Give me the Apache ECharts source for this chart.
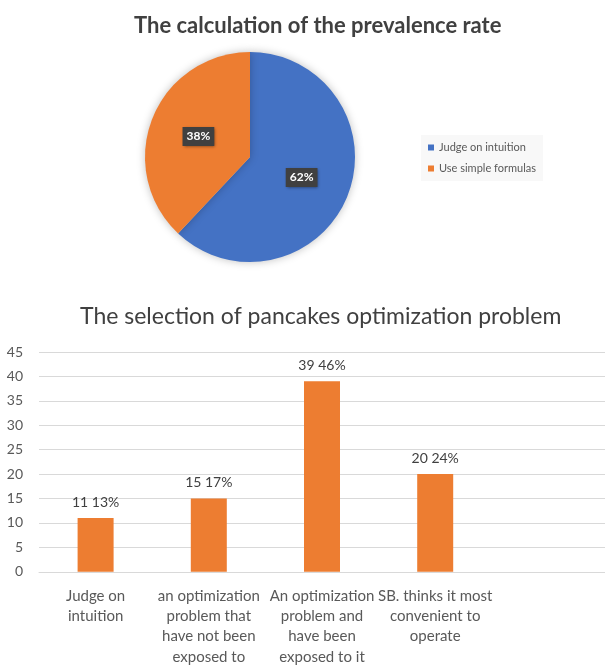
<!DOCTYPE html>
<html><head><meta charset="utf-8">
<script src="https://cdn.jsdelivr.net/npm/echarts@6/dist/echarts.min.js"></script>
<style>html,body{margin:0;padding:0;background:#fff}#c{width:605px;height:667px}</style>
</head><body><div id="c"></div>
<script>
const pieTitle = 'The calculation of the prevalence rate';
const pieNames = ['Judge on intuition', 'Use simple formulas'];
const pieValues = [62, 38];
const pieColors = ['#4472C4', '#ED7D31'];

const barTitle = 'The selection of pancakes optimization problem';
const barCategories = [
  'Judge on\nintuition',
  'an optimization\nproblem that\nhave not been\nexposed to',
  'An optimization\nproblem and\nhave been\nexposed to it',
  'SB. thinks it most\nconvenient to\noperate'
];
const barValues = [11, 15, 39, 20];
const barPercents = ['13%', '17%', '46%', '24%'];
const yMin = 0, yMax = 45, yStep = 5;

const FONT = 'Lato';
const chart = echarts.init(document.getElementById('c'), null, {renderer: 'canvas'});
chart.setOption({
  backgroundColor: '#fff',
  animation: false,
  textStyle: {fontFamily: FONT},
  title: [
    {text: pieTitle, left: 129, top: 10,
     textStyle: {fontFamily: FONT, fontSize: 22, fontWeight: 'bold', color: '#404040'}},
    {text: barTitle, left: 75, top: 300,
     textStyle: {fontFamily: FONT, fontSize: 23, fontWeight: 'normal', color: '#404040'}}
  ],
  legend: {
    orient: 'vertical', left: 421, top: 135,
    padding: [6, 7, 6, 7], itemGap: 8, itemWidth: 6, itemHeight: 6,
    icon: 'rect', backgroundColor: '#f8f8f8',
    data: pieNames,
    textStyle: {fontFamily: FONT, fontSize: 11, color: '#595959', lineHeight: 13}
  },
  grid: {left: 39, top: 352, width: 574, height: 225, containLabel: false},
  xAxis: {
    type: 'category', data: barCategories.concat(['']),
    axisTick: {show: false},
    axisLine: {lineStyle: {color: '#d9d9d9'}},
    axisLabel: {interval: 0, margin: 14, fontFamily: FONT, fontSize: 15, color: '#595959', lineHeight: 20.3}
  },
  yAxis: {
    type: 'value', min: yMin, max: yMax, interval: yStep,
    axisLine: {show: false}, axisTick: {show: false},
    splitLine: {lineStyle: {color: '#d9d9d9', width: 1}},
    axisLabel: {margin: 16, fontFamily: FONT, fontSize: 14, color: '#595959'}
  },
  series: [
    {
      type: 'pie', center: [250, 157], radius: [0, 105],
      startAngle: 90, clockwise: true,
      itemStyle: {shadowBlur: 8, shadowColor: 'rgba(0,0,0,0.25)'},
      label: {
        position: 'inside', formatter: '{d}%',
        color: '#fff', fontFamily: FONT, fontSize: 12, fontWeight: 'bold',
        backgroundColor: '#404040', padding: [4, 4, 3, 4],
        shadowBlur: 3, shadowColor: 'rgba(0,0,0,0.5)', shadowOffsetX: 1, shadowOffsetY: 1
      },
      labelLine: {show: false},
      data: pieNames.map((n, i) => ({name: n, value: pieValues[i], itemStyle: {color: pieColors[i]}}))
    },
    {
      type: 'bar', data: barValues, barWidth: 36,
      itemStyle: {color: '#ED7D31'},
      label: {
        show: true, position: 'top', distance: 9,
        formatter: p => p.value + ' ' + barPercents[p.dataIndex],
        fontFamily: FONT, fontSize: 14, color: '#404040'
      }
    }
  ]
});
</script></body></html>
